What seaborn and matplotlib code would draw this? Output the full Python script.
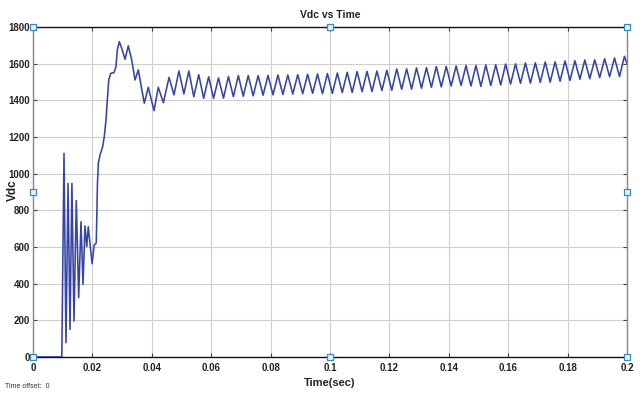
import numpy as np
import pandas as pd
import matplotlib
matplotlib.use("Agg")
import matplotlib.pyplot as plt
import seaborn as sns

# ---- data ----
transient_t = [0.0, 0.0097, 0.01044, 0.0111, 0.0118, 0.01246, 0.0131, 0.0138,
               0.01458, 0.01538, 0.01616, 0.01684, 0.0175, 0.0181, 0.0186,
               0.0199, 0.0206, 0.0213, 0.0217, 0.0220, 0.02256, 0.02346,
               0.0240, 0.02458, 0.02502, 0.0255, 0.02616, 0.02727, 0.02795,
               0.02838, 0.02906, 0.02987, 0.03098, 0.03209, 0.03323, 0.03434,
               0.03545, 0.03747, 0.03882, 0.04074, 0.04219, 0.0439]
transient_v = [0, 0, 1111, 78, 947, 151, 947, 196, 853, 324, 738, 396, 715,
               602, 711, 509, 611, 622, 947, 1057, 1102, 1147, 1202, 1293,
               1402, 1511, 1547, 1551, 1584, 1675, 1720, 1684, 1624, 1697,
               1620, 1511, 1566, 1384, 1471, 1344, 1471, 1387]

# 300 Hz ripple: alternating peaks and troughs every half period
ripple_start = 0.0458
ripple_half_period = 1.0 / 600.0
ripple_peaks = [1525, 1560, 1560, 1540, 1529, 1522, 1530, 1535, 1535, 1535,
                1536, 1538, 1538, 1540, 1542, 1544, 1546, 1549, 1553, 1557,
                1558, 1560, 1564, 1571, 1572, 1577, 1578, 1584, 1585, 1588,
                1590, 1590, 1593, 1594, 1598, 1599, 1604, 1605, 1609, 1610,
                1615, 1616, 1620, 1621, 1627, 1631, 1640]
ripple_troughs = [1430, 1435, 1420, 1411, 1411, 1412, 1420, 1422, 1425, 1428,
                  1430, 1432, 1434, 1436, 1438, 1436, 1438, 1442, 1443, 1447,
                  1448, 1453, 1455, 1460, 1461, 1466, 1471, 1473, 1478, 1481,
                  1478, 1476, 1480, 1484, 1489, 1493, 1494, 1498, 1499, 1504,
                  1509, 1515, 1518, 1524, 1529, 1530]
end_t = [0.2]
end_v = [1600]

x_ticks = [0, 0.02, 0.04, 0.06, 0.08, 0.1, 0.12, 0.14, 0.16, 0.18, 0.2]
x_tick_labels = ["0", "0.02", "0.04", "0.06", "0.08", "0.1", "0.12", "0.14",
                 "0.16", "0.18", "0.2"]
y_ticks = [0, 200, 400, 600, 800, 1000, 1200, 1400, 1600, 1800]
y_tick_labels = [str(v) for v in y_ticks]

handle_x = [0, 0.1, 0.2, 0, 0.2, 0, 0.1, 0.2]
handle_y = [1800, 1800, 1800, 900, 900, 0, 0, 0]

# ---- assemble series ----
ripple_v = []
for i, p in enumerate(ripple_peaks):
    ripple_v.append(p)
    if i < len(ripple_troughs):
        ripple_v.append(ripple_troughs[i])
ripple_t = [ripple_start + i * ripple_half_period for i in range(len(ripple_v))]

df = pd.DataFrame({"Time": transient_t + ripple_t + end_t,
                   "Vdc": transient_v + ripple_v + end_v})

sns.set_theme(style="whitegrid")
plt.rcParams["font.family"] = ["Liberation Sans", "DejaVu Sans"]

fig = plt.figure(figsize=(6.4, 3.94), dpi=100)
ax = fig.add_axes([33 / 640, 1 - 357 / 394, (627 - 33) / 640, (357 - 27) / 394])
ax.set_facecolor("white")

sns.lineplot(data=df, x="Time", y="Vdc", ax=ax, sort=False, estimator=None,
             color="#3445a6", linewidth=1.15)
for ln in ax.get_lines():
    ln.set_solid_joinstyle("round")
    ln.set_solid_capstyle("round")

ax.set_xlim(0, 0.2)
ax.set_ylim(0, 1800)
ax.set_xticks(x_ticks)
ax.set_xticklabels(x_tick_labels)
ax.set_yticks(y_ticks)
ax.set_yticklabels(y_tick_labels)
ax.grid(True, color="#cfcfcf", linewidth=0.8)
for lbl in ax.get_xticklabels() + ax.get_yticklabels():
    lbl.set_fontweight("bold")
    lbl.set_fontsize(7)
    lbl.set_color("#222222")
ax.tick_params(axis="both", which="both", direction="in", length=3,
               width=0.8, color="#444444", top=True, right=True,
               bottom=True, left=True)
ax.tick_params(axis="x", pad=4)
ax.tick_params(axis="y", pad=2)

for side in ["top", "bottom"]:
    ax.spines[side].set_color("#111111")
    ax.spines[side].set_linewidth(1.0)
for side in ["left", "right"]:
    ax.spines[side].set_color("#888888")
    ax.spines[side].set_linewidth(1.0)

ax.set_xlabel("")
ax.set_ylabel("")
fig.text(330 / 640, 1 - 15 / 394, "Vdc vs Time", ha="center", va="center",
         fontsize=7.5, fontweight="bold", color="#222222")
fig.text(330 / 640, 1 - 383 / 394, "Time(sec)", ha="center", va="center",
         fontsize=8, fontweight="bold", color="#222222")
fig.text(13 / 640, 1 - 190 / 394, "Vdc", ha="center", va="center",
         rotation=90, fontsize=8.5, fontweight="bold", color="#222222")
fig.text(5 / 640, 1 - 387 / 394, "Time offset:  0", ha="left", va="center",
         fontsize=5, color="#333333")

ax.scatter(handle_x, handle_y, marker="s", s=13, facecolor="#e8f2fa",
           edgecolor="#3a8cc8", linewidth=0.9, clip_on=False, zorder=5)

fig.savefig("out.png", dpi=100)
